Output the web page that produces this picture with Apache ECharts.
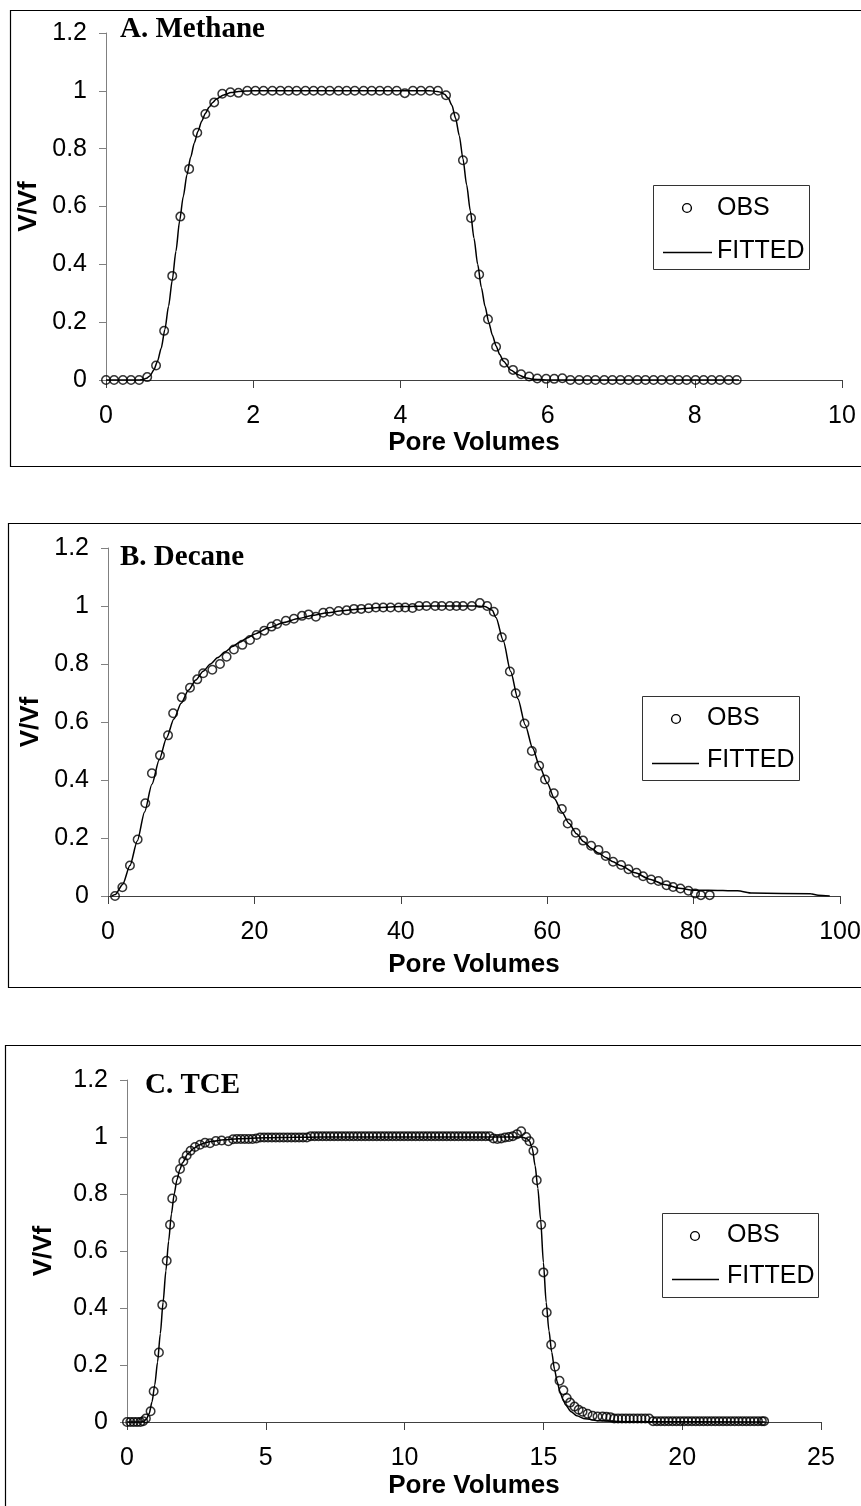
<!DOCTYPE html>
<html>
<head>
<meta charset="utf-8">
<script src="https://cdn.jsdelivr.net/npm/echarts@6/dist/echarts.min.js"></script>
<style>html,body{margin:0;padding:0;background:#fff;}#c{width:861px;height:1506px;}</style>
</head>
<body>
<div id="c"></div>
<script>
// ---------- DATA ----------
const panelTitles = ['A. Methane', 'B. Decane', 'C. TCE'];
const xAxisMax = [10, 100, 25];
const xAxisInterval = [2, 20, 5];
const legendNames = ['OBS', 'FITTED'];

// A. Methane observed [pore volumes, V/Vf]
const methaneObs = [
 [0.00,0],[0.11,0],[0.23,0],[0.34,0],[0.45,0],[0.56,0.01],[0.68,0.05],[0.79,0.17],[0.90,0.36],[1.01,0.565],
 [1.13,0.73],[1.24,0.855],[1.35,0.92],[1.47,0.96],[1.58,0.99],[1.69,0.995],[1.80,0.993],[1.92,1],[2.03,1],[2.14,1],
 [2.26,1],[2.37,1],[2.48,1],[2.59,1],[2.71,1],[2.82,1],[2.93,1],[3.04,1],[3.16,1],[3.27,1],
 [3.38,1],[3.50,1],[3.61,1],[3.72,1],[3.83,1],[3.95,1],[4.06,0.992],[4.17,1],[4.28,1],[4.40,1],
 [4.51,1],[4.62,0.985],[4.74,0.91],[4.85,0.76],[4.96,0.56],[5.07,0.365],[5.19,0.21],[5.30,0.115],[5.41,0.06],[5.53,0.035],
 [5.64,0.02],[5.75,0.012],[5.86,0.005],[5.98,0.004],[6.09,0.004],[6.20,0.006],[6.31,0],[6.43,0],[6.54,0],[6.65,0],
 [6.77,0],[6.88,0],[6.99,0],[7.10,0],[7.22,0],[7.33,0],[7.44,0],[7.55,0],[7.67,0],[7.78,0],
 [7.89,0],[8.01,0],[8.12,0],[8.23,0],[8.34,0],[8.46,0],[8.57,0]
];
// A. Methane fitted
const methaneFit = [
 [0,0],[0.45,0],[0.5,0.002],[0.55,0.006],[0.6,0.015],[0.65,0.035],[0.7,0.065],[0.75,0.11],[0.8,0.175],[0.85,0.255],
 [0.9,0.345],[0.95,0.445],[1.0,0.55],[1.05,0.635],[1.1,0.71],[1.15,0.77],[1.2,0.82],[1.25,0.86],[1.3,0.895],[1.35,0.922],
 [1.4,0.943],[1.45,0.96],[1.5,0.972],[1.6,0.986],[1.7,0.994],[1.8,0.998],[2.0,1],[4.4,1],[4.5,0.998],[4.55,0.995],
 [4.6,0.988],[4.65,0.975],[4.7,0.95],[4.75,0.905],[4.8,0.845],[4.85,0.765],[4.9,0.675],[4.95,0.585],[5.0,0.49],[5.05,0.40],
 [5.1,0.32],[5.15,0.255],[5.2,0.2],[5.25,0.155],[5.3,0.118],[5.35,0.088],[5.4,0.065],[5.5,0.035],[5.6,0.018],[5.7,0.008],
 [5.8,0.003],[6.0,0],[8.6,0]
];

// B. Decane observed
const decaneObs = [
 [0.96,0],[1.96,0.03],[3.0,0.105],[4.05,0.195],[5.1,0.32],[6.0,0.423],[7.1,0.485],[8.2,0.554],[8.9,0.63],[10.07,0.685],
 [11.2,0.718],[12.2,0.747],[13.0,0.768],[14.25,0.78],[15.3,0.80],[16.2,0.825],[17.2,0.85],[18.35,0.866],[19.4,0.883],[20.3,0.90],
 [21.35,0.915],[22.35,0.929],[23.1,0.938],[24.3,0.949],[25.4,0.956],[26.5,0.966],[27.4,0.971],[28.4,0.963],[29.4,0.977],[30.3,0.98],
 [31.5,0.983],[32.6,0.985],[33.6,0.99],[34.6,0.99],[35.6,0.992],[36.6,0.995],[37.6,0.995],[38.6,0.995],[39.7,0.995],[40.6,0.995],
 [41.6,0.993],[42.5,1],[43.5,1],[44.7,1],[45.6,1],[46.7,1],[47.6,1],[48.5,1],[49.7,1],[50.8,1.01],
 [51.8,1],[52.7,0.98],[53.8,0.892],[54.9,0.774],[55.7,0.699],[56.9,0.595],[57.9,0.50],[58.9,0.449],[59.7,0.402],[60.9,0.354],
 [62.0,0.30],[62.8,0.25],[63.9,0.218],[64.9,0.191],[66.0,0.173],[67.0,0.159],[68.0,0.138],[69.0,0.118],[70.1,0.107],[71.1,0.092],
 [72.2,0.08],[73.1,0.068],[74.2,0.057],[75.2,0.052],[76.3,0.037],[77.2,0.031],[78.2,0.026],[79.3,0.018],[80.2,0.009],[81.0,0.003],
 [82.2,0.003]
];
// B. Decane fitted
const decaneFit = [
 [0.5,0],[1,0.005],[2,0.04],[3,0.105],[4,0.19],[5,0.29],[6,0.385],[7,0.47],[8,0.545],[9,0.61],
 [10,0.665],[11,0.71],[12,0.745],[13,0.775],[14,0.80],[15,0.822],[16,0.842],[17,0.86],[18,0.875],[19,0.89],
 [20,0.903],[22,0.925],[24,0.943],[26,0.957],[28,0.968],[30,0.977],[32,0.984],[34,0.989],[36,0.993],[38,0.996],
 [40,0.998],[44,1],[50,1],[51.5,0.998],[52.5,0.985],[53,0.96],[54,0.88],[55,0.775],[56,0.68],[57,0.59],
 [58,0.51],[59,0.445],[60,0.39],[61,0.335],[62,0.29],[63,0.25],[64,0.215],[65,0.187],[66,0.165],[67,0.148],
 [68,0.133],[69,0.118],[70,0.105],[72,0.08],[74,0.058],[76,0.04],[78,0.027],[80,0.02],[82,0.02],[86,0.018],
 [88,0.01],[96,0.008],[97,0.003],[98.6,0]
];

// C. TCE observed
const tceObs = [
 [0.00,0],[0.12,0],[0.24,0],[0.36,0],[0.48,0],[0.58,0.003],[0.68,0.012],[0.85,0.038],[0.96,0.108],[1.15,0.244],
 [1.27,0.411],[1.43,0.566],[1.55,0.692],[1.63,0.784],[1.79,0.848],[1.91,0.888],[2.03,0.915],[2.15,0.935],[2.29,0.952],[2.45,0.965],
 [2.63,0.973],[2.81,0.98],[2.99,0.978],[3.20,0.986],[3.41,0.988],[3.65,0.985],[3.82,0.992],[3.96,0.993],[4.10,0.993],[4.24,0.993],
 [4.38,0.993],[4.52,0.993],[4.66,0.995],[4.80,0.998],[4.94,0.998],[5.08,0.998],[5.22,0.998],[5.36,0.998],[5.50,0.998],[5.64,0.998],
 [5.78,0.998],[5.92,0.998],[6.06,0.998],[6.20,0.998],[6.34,0.998],[6.48,0.998],[6.62,1.003],[6.76,1.003],[6.90,1.003],[7.04,1.003],
 [7.18,1.003],[7.32,1.003],[7.46,1.003],[7.60,1.003],[7.74,1.003],[7.88,1.003],[8.02,1.003],[8.16,1.003],[8.30,1.003],[8.44,1.003],
 [8.58,1.003],[8.72,1.003],[8.86,1.003],[9.00,1.003],[9.14,1.003],[9.28,1.003],[9.42,1.003],[9.56,1.003],[9.70,1.003],[9.84,1.003],
 [9.98,1.003],[10.12,1.003],[10.26,1.003],[10.40,1.003],[10.54,1.003],[10.68,1.003],[10.82,1.003],[10.96,1.003],[11.10,1.003],[11.24,1.003],
 [11.38,1.003],[11.52,1.003],[11.66,1.003],[11.80,1.003],[11.94,1.003],[12.08,1.003],[12.22,1.003],[12.36,1.003],[12.50,1.003],[12.64,1.003],
 [12.78,1.003],[12.92,1.003],[13.06,1.003],[13.20,0.995],[13.34,0.993],[13.48,0.995],[13.62,0.998],[13.76,1.0],[13.90,1.003],[14.05,1.01],
 [14.20,1.02],[14.38,1.0],[14.50,0.985],[14.64,0.952],[14.76,0.848],[14.92,0.692],[15.00,0.525],[15.12,0.384],[15.28,0.271],[15.42,0.194],
 [15.58,0.145],[15.72,0.111],[15.84,0.084],[15.96,0.068],[16.12,0.054],[16.27,0.043],[16.41,0.036],[16.59,0.029],[16.77,0.022],[16.95,0.019],
 [17.13,0.019],[17.27,0.018],[17.41,0.017],[17.55,0.012],[17.69,0.012],[17.83,0.012],[17.97,0.012],[18.11,0.012],[18.25,0.012],[18.39,0.012],
 [18.53,0.012],[18.67,0.012],[18.81,0.012],[18.95,0.003],[19.09,0.003],[19.23,0.003],[19.37,0.003],[19.51,0.003],[19.65,0.003],[19.79,0.003],
 [19.93,0.003],[20.07,0.003],[20.21,0.003],[20.35,0.003],[20.49,0.003],[20.63,0.003],[20.77,0.003],[20.91,0.003],[21.05,0.003],[21.19,0.003],
 [21.33,0.003],[21.47,0.003],[21.61,0.003],[21.75,0.003],[21.89,0.003],[22.03,0.003],[22.17,0.003],[22.31,0.003],[22.45,0.003],[22.59,0.003],
 [22.73,0.003],[22.87,0.003],[22.95,0.003]
];
// C. TCE fitted
const tceFit = [
 [0,0],[0.5,0],[0.6,0.003],[0.7,0.01],[0.8,0.03],[0.9,0.07],[1.0,0.13],[1.1,0.21],[1.2,0.31],[1.3,0.42],
 [1.4,0.53],[1.5,0.635],[1.6,0.73],[1.7,0.80],[1.8,0.85],[1.9,0.885],[2.0,0.91],[2.2,0.942],[2.4,0.96],[2.6,0.972],
 [2.8,0.979],[3.0,0.984],[3.5,0.99],[4.0,0.994],[5.0,0.997],[6.0,0.999],[7.0,1],[14.2,1],[14.4,0.995],[14.5,0.985],
 [14.6,0.96],[14.7,0.9],[14.8,0.82],[14.9,0.71],[15.0,0.56],[15.1,0.42],[15.2,0.32],[15.3,0.245],[15.4,0.185],[15.5,0.14],
 [15.6,0.105],[15.7,0.08],[15.8,0.06],[16.0,0.036],[16.2,0.022],[16.5,0.011],[17.0,0.004],[18.0,0.001],[23.0,0]
];

// ---------- LAYOUT ----------
const SANS = "'Liberation Sans', Arial, sans-serif";
const SERIF = "'Liberation Serif', 'Times New Roman', serif";
const grids = [
  {left:106, top:33, width:736, height:347},
  {left:108, top:548, width:732, height:348},
  {left:127, top:1080, width:694, height:342}
];
const titlePos = [{left:120, top:15}, {left:120, top:543}, {left:145, top:1071}];
const yNameGap = [61, 63, 70];
const xNameGap = [49, 56, 51];
const boxes = [
  {x:10.5, y:10.5, w:880, h:456},
  {x:8.5, y:523.5, w:880, h:464},
  {x:5.5, y:1045.5, w:880, h:520}
];
const legends = [
  {x:653.5, y:185.5, w:156, h:84, cx:687, cy:208, tx:717, ty1:208, ty2:251, lx1:663, lx2:712, ly:252.5},
  {x:642.5, y:696.5, w:157, h:84, cx:676, cy:719, tx:707, ty1:718, ty2:760, lx1:652, lx2:699, ly:763.5},
  {x:662.5, y:1213.5, w:156, h:84, cx:695, cy:1236, tx:727, ty1:1235, ty2:1276, lx1:672, lx2:719, ly:1279.5}
];

const obsSets = [methaneObs, decaneObs, tceObs];
const fitSets = [methaneFit, decaneFit, tceFit];

const option = {
  backgroundColor: '#fff',
  animation: false,
  title: panelTitles.map((t, i) => ({
    text: t, left: titlePos[i].left, top: titlePos[i].top, padding: 0,
    textStyle: {fontFamily: SERIF, fontWeight: 'bold', fontSize: 29, color: '#000'}
  })),
  grid: grids.map(g => Object.assign({outerBoundsMode: 'none', containLabel: false}, g)),
  xAxis: grids.map((g, i) => ({
    gridIndex: i, type: 'value', min: 0, max: xAxisMax[i], interval: xAxisInterval[i],
    axisLine: {show: true, onZero: false, lineStyle: {color: '#404040', width: 1}},
    axisTick: {show: true, length: 8, lineStyle: {color: '#404040'}},
    axisLabel: {fontSize: 25, color: '#000', fontFamily: SANS, margin: 24},
    splitLine: {show: false},
    name: 'Pore Volumes', nameLocation: 'middle', nameGap: xNameGap[i],
    nameTextStyle: {fontSize: 26, fontWeight: 'bold', fontFamily: SANS, color: '#000'}
  })),
  yAxis: grids.map((g, i) => ({
    gridIndex: i, type: 'value', min: 0, max: 1.2, interval: 0.2,
    axisLine: {show: true, lineStyle: {color: '#808080', width: 1}},
    axisTick: {show: true, length: 7, lineStyle: {color: '#808080'}},
    axisLabel: {fontSize: 25, color: '#000', fontFamily: SANS, margin: 19},
    splitLine: {show: false},
    name: 'V/Vf', nameLocation: 'middle', nameGap: yNameGap[i],
    nameTextStyle: {fontSize: 26, fontWeight: 'bold', fontFamily: SANS, color: '#000'}
  })),
  series: [],
  graphic: []
};

obsSets.forEach((d, i) => {
  option.series.push({
    name: legendNames[0], type: 'scatter', xAxisIndex: i, yAxisIndex: i, data: d,
    symbol: 'circle', symbolSize: 8.5, z: 2,
    itemStyle: {color: 'rgba(0,0,0,0)', borderColor: '#000', borderWidth: 1.5}
  });
  option.series.push({
    name: legendNames[1], type: 'line', xAxisIndex: i, yAxisIndex: i, data: fitSets[i],
    showSymbol: false, symbol: 'none', smooth: 0.25, smoothMonotone: 'x', z: 3,
    lineStyle: {color: '#000', width: 1.5}
  });
});

boxes.forEach(b => {
  option.graphic.push({type: 'rect', silent: true, z: -10,
    shape: {x: b.x, y: b.y, width: b.w, height: b.h},
    style: {fill: 'none', stroke: '#000', lineWidth: 1.2}});
});
legends.forEach(L => {
  option.graphic.push({type: 'rect', silent: true, z: 10,
    shape: {x: L.x, y: L.y, width: L.w, height: L.h},
    style: {fill: '#fff', stroke: '#333', lineWidth: 1}});
  option.graphic.push({type: 'circle', silent: true, z: 11,
    shape: {cx: L.cx, cy: L.cy, r: 4.4},
    style: {fill: 'none', stroke: '#000', lineWidth: 1.4}});
  option.graphic.push({type: 'line', silent: true, z: 11,
    shape: {x1: L.lx1, y1: L.ly, x2: L.lx2, y2: L.ly},
    style: {stroke: '#000', lineWidth: 1.5}});
  option.graphic.push({type: 'text', silent: true, z: 11, x: L.tx, y: L.ty1,
    style: {text: legendNames[0], fontSize: 25, fontFamily: SANS, fill: '#000', verticalAlign: 'middle', align: 'left'}});
  option.graphic.push({type: 'text', silent: true, z: 11, x: L.tx, y: L.ty2,
    style: {text: legendNames[1], fontSize: 25, fontFamily: SANS, fill: '#000', verticalAlign: 'middle', align: 'left'}});
});

const chart = echarts.init(document.getElementById('c'), null, {renderer: 'canvas', width: 861, height: 1506});
chart.setOption(option);
</script>
</body>
</html>
